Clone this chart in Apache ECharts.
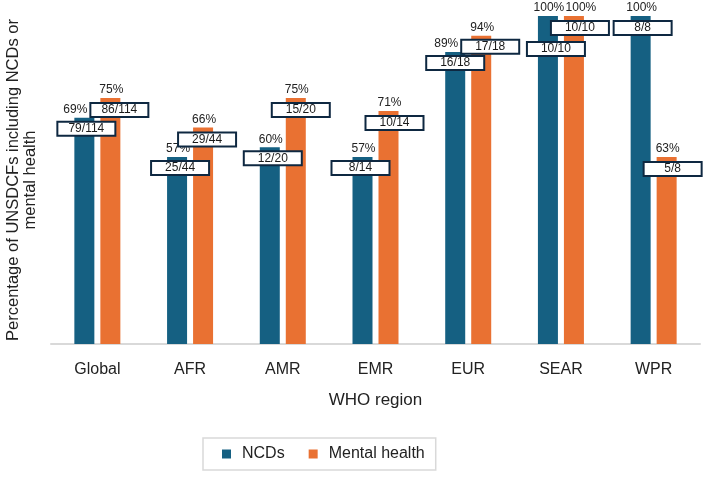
<!DOCTYPE html>
<html>
<head>
<meta charset="utf-8">
<script src="https://cdn.jsdelivr.net/npm/echarts@6/dist/echarts.min.js"></script>
<style>
  html, body { margin: 0; padding: 0; background: #fff; }
  #chart { width: 709px; height: 477px; }
</style>
</head>
<body>
<div id="chart"></div>
<script>
// WHO regions
const regions = ['Global', 'AFR', 'AMR', 'EMR', 'EUR', 'SEAR', 'WPR'];
// bar heights (%) as drawn
const ncdValues = [69, 57, 60, 57, 89, 100, 100];
const mhValues = [75, 66, 75, 71, 94, 100, 57];
// counts of UNSDCFs
const ncdCounts = [79, 25, 12, 8, 16, 10, 8];
const mhCounts = [86, 29, 15, 10, 17, 10, 5];
const totals = [114, 44, 20, 14, 18, 10, 8];

// label nudges (px) so the boxes don't collide
const ncdPctShift = [-10, 0, 0, 0, -10, 0, 0];
const mhPctShift = [0, 0, 0, 0, 0, 6, 0];
const ncdBoxShift = [[2, 11], [3, 11], [3, 11], [-2, 11], [0, 11], [8, 33], [2, 12]];
const mhBoxShift = [[9, 12], [4, 12], [5, 12], [6, 12], [9, 11], [6, 12], [6, 12]];

const font = "'Liberation Sans', Arial, sans-serif";
const NCD_COLOR = '#156082';
const MH_COLOR = '#E97132';

function pct(n, d) {
  return Math.round(n / d * 100) + '%';
}

function barData(values, counts, shift) {
  return values.map((v, i) => ({
    value: v,
    label: { offset: [shift[i] + 1, 0], formatter: pct(counts[i], totals[i]) }
  }));
}

function boxes(values, counts, shift) {
  return values.map((v, i) => ({
    name: counts[i] + '/' + totals[i],
    coord: [regions[i], v],
    symbolOffset: shift[i]
  }));
}

function makeSeries(name, color, values, counts, pctShift, boxShift) {
  return {
    name: name,
    type: 'bar',
    barWidth: 20,
    barGap: '30%',
    itemStyle: { color: color },
    label: {
      show: true,
      position: 'top',
      distance: 2,
      color: '#222',
      fontSize: 12,
      fontFamily: font
    },
    data: barData(values, counts, pctShift),
    markPoint: {
      symbol: 'rect',
      symbolSize: 1,
      animation: false,
      itemStyle: { color: 'rgba(0,0,0,0)' },
      label: {
        show: true,
        position: 'inside',
        formatter: '{b}',
        color: '#1a1a1a',
        fontSize: 12,
        fontFamily: font,
        backgroundColor: '#fff',
        borderColor: '#0E2841',
        borderWidth: 2,
        width: 56,
        height: 10,
        lineHeight: 10,
        align: 'center',
        verticalAlign: 'middle',
        padding: [2, 0, 0, 0]
      },
      data: boxes(values, counts, boxShift)
    }
  };
}

const chart = echarts.init(document.getElementById('chart'));
chart.setOption({
  animation: false,
  backgroundColor: '#fff',
  grid: { left: 51, right: 9, top: 16, bottom: 133, outerBoundsMode: 'none' },
  legend: {
    data: ['NCDs', 'Mental health'],
    left: 203,
    top: 438,
    icon: 'rect',
    itemWidth: 9,
    itemHeight: 9,
    itemGap: 24,
    padding: [8, 11, 8, 19],
    borderColor: '#d9d9d9',
    borderWidth: 1.5,
    textStyle: { fontSize: 16, color: '#222', fontFamily: font, padding: [0, 0, 0, 6] }
  },
  xAxis: {
    type: 'category',
    data: regions,
    name: 'WHO region',
    nameLocation: 'middle',
    nameGap: 48,
    nameTextStyle: { fontSize: 17, color: '#222', fontFamily: font },
    axisLine: { lineStyle: { color: '#d9d9d9', width: 2 } },
    axisTick: { show: false },
    axisLabel: { margin: 18, fontSize: 16, color: '#222', fontFamily: font }
  },
  yAxis: {
    type: 'value',
    min: 0,
    max: 100,
    name: 'Percentage of UNSDCFs including NCDs or\nmental health',
    nameLocation: 'middle',
    nameRotate: 90,
    nameGap: 12,
    nameTextStyle: { fontSize: 16.5, color: '#222', fontFamily: font, lineHeight: 17 },
    axisLine: { show: false },
    axisTick: { show: false },
    axisLabel: { show: false },
    splitLine: { show: false }
  },
  series: [
    makeSeries('NCDs', NCD_COLOR, ncdValues, ncdCounts, ncdPctShift, ncdBoxShift),
    makeSeries('Mental health', MH_COLOR, mhValues, mhCounts, mhPctShift, mhBoxShift)
  ]
});
</script>
</body>
</html>
